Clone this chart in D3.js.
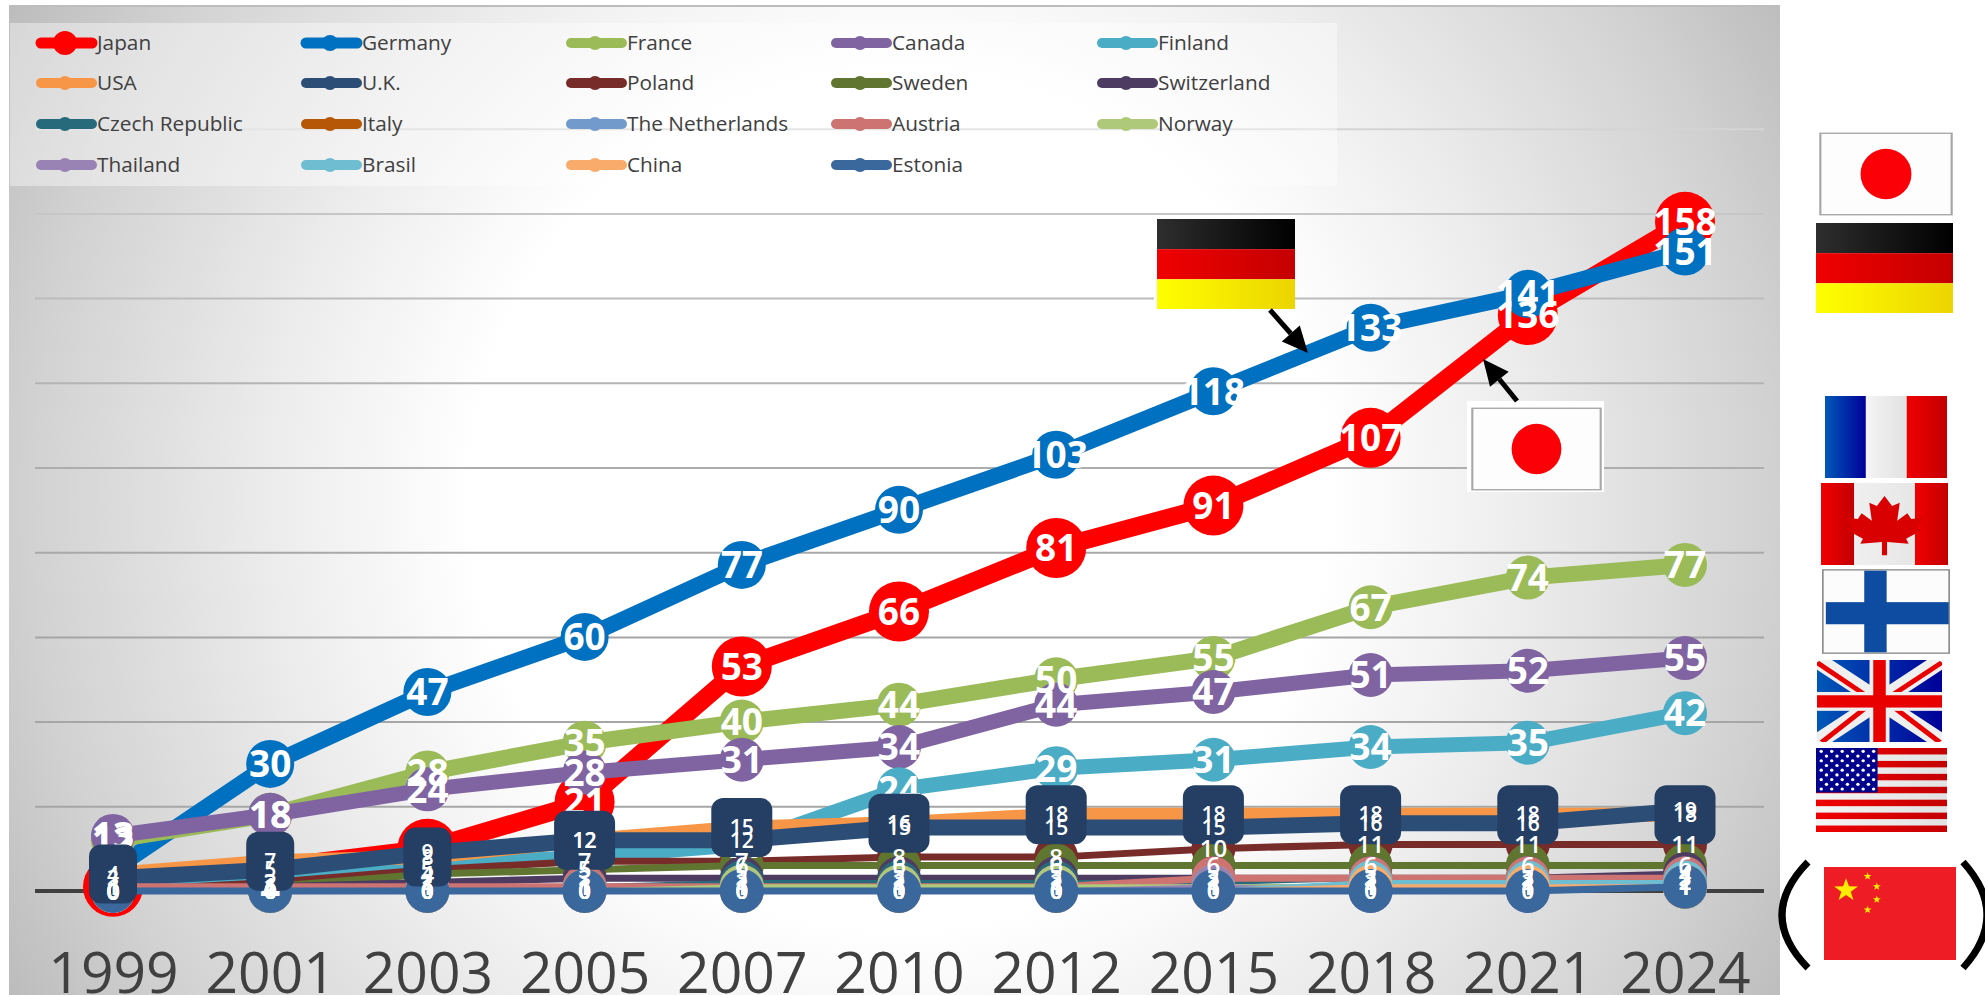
<!DOCTYPE html>
<html>
<head>
<meta charset="utf-8">
<title>Chart</title>
<script src="https://cdn.jsdelivr.net/npm/d3@7"></script>
<style>
  html, body { margin: 0; padding: 0; background: #fff; overflow: hidden; }
  svg { display: block; }
  text { font-family: "Open Sans", sans-serif; }
</style>
</head>
<body>
<div id="chart"></div>
<script>
// valores, un array por pais (null = sin dato, la linea lo salta)
const years = [1999, 2001, 2003, 2005, 2007, 2010, 2012, 2015, 2018, 2021, 2024];
const japan = [1, null, 10, 21, 53, 66, 81, 91, 107, 136, 158];
const germany = [5, 30, 47, 60, 77, 90, 103, 118, 133, 141, 151];
const france = [12, 18, 28, 35, 40, 44, 50, 55, 67, 74, 77];
const canada = [13, 18, 24, 28, 31, 34, 44, 47, 51, 52, 55];
const finland = [1, 2, 6, 8, 11, 24, 29, 31, 34, 35, 42];
const usa = [4, 7, 8, 12, 15, 16, 18, 18, 18, 18, 18];
const uk = [3, 5, 9, 12, 12, 15, 15, 15, 16, 16, 19];
const poland = [0, 2, 5, 7, 7, 8, 8, 10, 11, 11, 11];
const sweden = [0, 1, 4, 5, 6, 6, 6, 6, 6, 6, 6];
const switzerland = [0, 1, 2, 3, 3, 3, 3, 3, 3, 3, 4];
const czech = [0, 0, 1, 1, 2, 2, 2, 2, 3, 3, 3];
const italy = [0, 0, 1, 1, 1, 1, 1, 1, 1, 1, 1];
const netherlands = [0, 0, 0, 1, 1, 1, 1, 1, 1, 1, 1];
const austria = [1, 1, 1, 1, 1, 1, 1, 3, 3, 3, 3];
const norway = [0, 0, 0, 0, 1, 1, 1, 1, 1, 1, 1];
const thailand = [0, 0, 0, 0, 0, 0, 0, 1, 0, 0, 2];
const brasil = [0, 0, 0, 0, 0, 0, 0, 0, 2, 2, 2];
const china = [0, 0, 0, 0, 0, 0, 0, 0, 1, 1, 1];
const estonia = [0, 0, 0, 0, 0, 0, 0, 0, 0, 0, 1];

const names = ['Japan', 'Germany', 'France', 'Canada', 'Finland', 'USA', 'U.K.', 'Poland', 'Sweden',
  'Switzerland', 'Czech Republic', 'Italy', 'The Netherlands', 'Austria', 'Norway', 'Thailand',
  'Brasil', 'China', 'Estonia'];
const values = [japan, germany, france, canada, finland, usa, uk, poland, sweden, switzerland,
  czech, italy, netherlands, austria, norway, thailand, brasil, china, estonia];
const gridTicks = [20, 40, 60, 80, 100, 120, 140, 160, 180];
// las lineas altas se ven mas claras en el original
const gridColors = ['#a6a6a6', '#a6a6a6', '#a6a6a6', '#a8a8a8', '#adadad', '#b4b4b4', '#bcbcbc', '#c6c6c6', '#d4d4d4'];

const colors = ['#ff0000', '#0070c0', '#9bbb59', '#8064a2', '#4bacc6', '#f79646', '#2c4d75', '#772c2a',
  '#5f7530', '#4d3b62', '#276a7c', '#b65708', '#729aca', '#cd7371', '#afc97a', '#9983b5', '#6fbdd1',
  '#f9ab6b', '#3a679c'];
const lineWidths = [18, 16, 16, 15, 15, 14, 16, 7, 7, 7, 5, 5, 5, 7, 5, 5, 5, 5, 7];
const markerR = [30, 24, 22, 22, 22, 22, 22, 22, 22, 22, 22, 22, 22, 22, 22, 22, 22, 22, 22];
const labelSize = [37, 37, 37, 37, 37, 21, 21, 24, 24, 22, 22, 22, 22, 22, 22, 22, 22, 22, 22];

const svg = d3.select('#chart').append('svg').attr('width', 1985).attr('height', 995);
const defs = svg.append('defs');

// fondo con degradado radial, blanco al centro y gris en las esquinas
const bg = defs.append('radialGradient').attr('id', 'bg').attr('gradientUnits', 'userSpaceOnUse')
  .attr('cx', 900).attr('cy', 500).attr('r', 1020);
[[0, '#ffffff'], [0.42, '#ffffff'], [0.6, '#eeeeee'], [0.85, '#d2d2d2'], [1, '#bcbcbc']].forEach(s => {
  bg.append('stop').attr('offset', s[0]).attr('stop-color', s[1]);
});
svg.append('rect').attr('x', 9).attr('y', 6).attr('width', 1771).attr('height', 989).attr('fill', 'url(#bg)');
svg.append('line').attr('x1', 9).attr('x2', 1780).attr('y1', 6).attr('y2', 6)
  .attr('stroke', '#bdbdbd').attr('stroke-width', 2);

const x = d3.scalePoint().domain(years).range([113, 1685]);
const y = d3.scaleLinear().domain([0, 180]).range([891, 128.7]);

// rejilla
const grid = svg.append('g').attr('transform', 'translate(35,0)')
  .call(d3.axisLeft(y).tickValues(gridTicks).tickSize(-1729).tickFormat(''));
grid.select('.domain').remove();
grid.selectAll('line')
  .attr('stroke', d => gridColors[gridTicks.indexOf(d)]).attr('stroke-width', 2);

// eje de años
const axisX = svg.append('g').attr('transform', 'translate(0,891)')
  .call(d3.axisBottom(x).tickSize(0).tickFormat(d3.format('d')));
axisX.select('.domain').remove();
axisX.selectAll('text')
  .attr('y', 102).attr('dy', 0)
  .attr('font-size', '57px').attr('fill', '#404040')
  .attr('text-anchor', 'middle');
svg.append('line').attr('x1', 35).attr('x2', 1764).attr('y1', y(0)).attr('y2', y(0))
  .attr('stroke', '#404040').attr('stroke-width', 4);

// series: cada pais pinta su linea y sus marcadores encima del anterior
const lineGen = d3.line().x(d => x(d.year)).y(d => y(d.v));
const rowsOf = i => years.map((year, k) => ({ year, v: values[i][k] })).filter(d => d.v !== null);

names.forEach((name, i) => {
  const rows = rowsOf(i);
  const g = svg.append('g');
  g.append('path').datum(rows)
    .attr('fill', 'none').attr('stroke', colors[i]).attr('stroke-width', lineWidths[i])
    .attr('stroke-linejoin', 'round')
    .attr('d', lineGen);
  g.selectAll('circle').data(rows).join('circle')
    .attr('cx', d => x(d.year)).attr('cy', d => y(d.v))
    .attr('r', markerR[i]).attr('fill', colors[i]);
});

// etiquetas de valor, USA lleva caja oscura que tapa las anteriores
names.forEach((name, i) => {
  const rows = rowsOf(i);
  const g = svg.append('g');
  if (name === 'USA') {
    g.selectAll('rect').data(rows).join('rect')
      .attr('x', d => x(d.year) - (d.v > 9 ? 30.5 : 24))
      .attr('y', d => y(d.v) - 29.5)
      .attr('width', d => d.v > 9 ? 61 : 48).attr('height', 59)
      .attr('rx', 12).attr('fill', '#243f63');
  }
  g.selectAll('text').data(rows).join('text')
    .attr('x', d => x(d.year)).attr('y', d => y(d.v)).attr('dy', '0.36em')
    .attr('text-anchor', 'middle').attr('fill', '#fff')
    .attr('font-size', labelSize[i] + 'px').attr('font-weight', i < 5 ? 700 : 600)
    .text(d => d.v);
});

// leyenda
const legendX = [97, 362, 627, 892, 1158];
const legendY = [43, 83, 124, 165];
svg.append('rect').attr('x', 10).attr('y', 23).attr('width', 1327).attr('height', 163)
  .attr('fill', '#fff').attr('fill-opacity', 0.4);
names.forEach((name, i) => {
  const lx = legendX[i % 5];
  const ly = legendY[Math.floor(i / 5)];
  const g = svg.append('g').attr('transform', `translate(${lx},${ly})`);
  g.append('line').attr('x1', -56).attr('x2', -5).attr('y1', 0).attr('y2', 0)
    .attr('stroke', colors[i]).attr('stroke-width', i < 2 ? 11 : 10).attr('stroke-linecap', 'round');
  g.append('circle').attr('cx', -32).attr('cy', 0).attr('r', i === 0 ? 12 : i === 1 ? 8 : 7).attr('fill', colors[i]);
  g.append('text').attr('x', 0).attr('y', -1).attr('dy', '0.36em')
    .attr('font-size', '20.8px').attr('fill', '#404040').text(name);
});

// banderas, dibujadas en una caja de 100x100 que se estira al tamaño de cada una
function hGrad(id, c1, c2) {
  const g = defs.append('linearGradient').attr('id', id);
  g.append('stop').attr('offset', 0).attr('stop-color', c1);
  g.append('stop').attr('offset', 1).attr('stop-color', c2);
  return `url(#${id})`;
}
const fBlack = hGrad('fBlack', '#2e2e2e', '#000000');
const fRed = hGrad('fRed', '#f00000', '#c40000');
const fYellow = hGrad('fYellow', '#ffff00', '#ecd400');
const fBlue = hGrad('fBlue', '#0058b8', '#000098');
const fWhite = hGrad('fWhite', '#f4f4f4', '#e2e2e2');

function starPoints(cx, cy, rx, ry) {
  return d3.range(10).map(k => {
    const a = -Math.PI / 2 + k * Math.PI / 5;
    const f = k % 2 ? 0.4 : 1;
    return [cx + rx * f * Math.cos(a), cy + ry * f * Math.sin(a)].join(',');
  }).join(' ');
}

const flagDraw = {
  japan(g) {
    g.append('rect').attr('width', 100).attr('height', 100).attr('fill', '#fff');
    g.append('rect').attr('x', 1).attr('y', 1.5).attr('width', 98).attr('height', 97)
      .attr('fill', '#fdfdfd').attr('stroke', '#a6a6a6').attr('stroke-width', 1.6);
    g.append('ellipse').attr('cx', 50).attr('cy', 50).attr('rx', 19).attr('ry', 30).attr('fill', '#fb0007');
  },
  germany(g) {
    g.append('rect').attr('width', 100).attr('height', 33.5).attr('fill', fBlack);
    g.append('rect').attr('y', 33.5).attr('width', 100).attr('height', 33.5).attr('fill', fRed);
    g.append('rect').attr('y', 67).attr('width', 100).attr('height', 33).attr('fill', fYellow);
  },
  france(g) {
    g.append('rect').attr('width', 33.5).attr('height', 100).attr('fill', fBlue);
    g.append('rect').attr('x', 33.5).attr('width', 33.5).attr('height', 100).attr('fill', fWhite);
    g.append('rect').attr('x', 67).attr('width', 33).attr('height', 100).attr('fill', fRed);
  },
  canada(g) {
    g.append('rect').attr('width', 100).attr('height', 100).attr('fill', fWhite);
    g.append('rect').attr('width', 26).attr('height', 100).attr('fill', fRed);
    g.append('rect').attr('x', 74).attr('width', 26).attr('height', 100).attr('fill', fRed);
    g.append('path').attr('fill', '#d80000')
      .attr('d', 'M50 16 L56 28 L62 24 L60 46 L68 37 L71 44 L80 42 L76 54 L79 58 L67 68 L69 74 L52 72 L52 88 L48 88 L48 72 L31 74 L33 68 L21 58 L24 54 L20 42 L29 44 L32 37 L40 46 L38 24 L44 28 Z');
  },
  finland(g) {
    g.append('rect').attr('x', 0.5).attr('y', 1).attr('width', 99).attr('height', 98)
      .attr('fill', '#fcfcfc').attr('stroke', '#8c8c8c').attr('stroke-width', 1.6);
    g.append('rect').attr('x', 33).attr('y', 2).attr('width', 17.5).attr('height', 96).attr('fill', '#0d4ca1');
    g.append('rect').attr('x', 3).attr('y', 39).attr('width', 96).attr('height', 26).attr('fill', '#0d4ca1');
  },
  uk(g) {
    g.append('rect').attr('width', 100).attr('height', 100).attr('fill', fBlue);
    g.append('path').attr('d', 'M0 0 L100 100 M100 0 L0 100').attr('stroke', '#efefef').attr('stroke-width', 17);
    g.append('path').attr('d', 'M0 3 L40 44 M60 56 L98 100 M100 3 L60 43 M40 57 L4 100').attr('stroke', '#e80000').attr('stroke-width', 5);
    g.append('rect').attr('x', 42).attr('width', 16).attr('height', 100).attr('fill', '#efefef');
    g.append('rect').attr('y', 39).attr('width', 100).attr('height', 23).attr('fill', '#efefef');
    g.append('rect').attr('x', 45).attr('width', 10).attr('height', 100).attr('fill', '#e80000');
    g.append('rect').attr('y', 43).attr('width', 100).attr('height', 15).attr('fill', '#e80000');
  },
  usa(g) {
    g.append('rect').attr('width', 100).attr('height', 100).attr('fill', fWhite);
    g.selectAll('.stripe').data(d3.range(7)).join('rect').attr('class', 'stripe')
      .attr('y', k => k * 100 / 6.5).attr('width', 100).attr('height', 100 / 13).attr('fill', fRed);
    g.append('rect').attr('width', 47).attr('height', 53).attr('fill', '#00008c');
    d3.range(9).forEach(row => {
      const n = row % 2 ? 5 : 6;
      d3.range(n).forEach(col => {
        g.append('ellipse').attr('cx', (row % 2 ? 8 : 4) + col * 8).attr('cy', 4 + row * 5.6)
          .attr('rx', 1.3).attr('ry', 1.9).attr('fill', '#fff');
      });
    });
  },
  china(g) {
    g.append('rect').attr('width', 100).attr('height', 100).attr('fill', '#ee1c25');
    g.append('polygon').attr('points', starPoints(16.7, 25, 9.5, 13)).attr('fill', '#ffec00');
    [[33, 10], [40, 21], [40, 35], [33, 46]].forEach(p => {
      g.append('polygon').attr('points', starPoints(p[0], p[1], 3.2, 4.4)).attr('fill', '#ffec00');
    });
  },
};

function drawFlag(kind, x0, y0, x1, y1) {
  const g = svg.append('svg').attr('x', x0).attr('y', y0).attr('width', x1 - x0).attr('height', y1 - y0)
    .attr('viewBox', '0 0 100 100').attr('preserveAspectRatio', 'none').append('g');
  flagDraw[kind](g);
}

// columna de la derecha
drawFlag('japan', 1819, 132, 1953, 216);
drawFlag('germany', 1816, 223, 1953, 313);
drawFlag('france', 1825, 396, 1947, 478);
drawFlag('canada', 1821, 483, 1948, 565);
drawFlag('finland', 1822, 569, 1950, 654);
drawFlag('uk', 1817, 660, 1942, 742);
drawFlag('usa', 1816, 748, 1947, 832);
drawFlag('china', 1824, 867, 1956, 960);

// parentesis alrededor de China
svg.append('path').attr('d', 'M1808 862 Q1756 915 1808 968').attr('fill', 'none').attr('stroke', '#000').attr('stroke-width', 7);
svg.append('path').attr('d', 'M1963 862 Q2011 915 1963 968').attr('fill', 'none').attr('stroke', '#000').attr('stroke-width', 7);

// banderas dentro del grafico y sus flechas
svg.append('rect').attr('x', 1154).attr('y', 215).attr('width', 141).attr('height', 94).attr('fill', '#fff');
drawFlag('germany', 1157, 219, 1295, 309);
svg.append('rect').attr('x', 1467).attr('y', 401).attr('width', 137).attr('height', 91).attr('fill', '#fff');
drawFlag('japan', 1471, 407, 1602, 491);

function arrow(x0, y0, x1, y1) {
  const a = Math.atan2(y1 - y0, x1 - x0);
  const len = 26, half = 12;
  const bx = x1 - len * Math.cos(a), by = y1 - len * Math.sin(a);
  svg.append('line').attr('x1', x0).attr('y1', y0).attr('x2', bx).attr('y2', by)
    .attr('stroke', '#000').attr('stroke-width', 5);
  svg.append('polygon').attr('fill', '#000').attr('points', [
    [x1, y1],
    [bx - half * Math.sin(a), by + half * Math.cos(a)],
    [bx + half * Math.sin(a), by - half * Math.cos(a)],
  ].join(' '));
}
arrow(1270, 310, 1308, 353);
arrow(1517, 401, 1483, 359);
</script>
</body>
</html>
